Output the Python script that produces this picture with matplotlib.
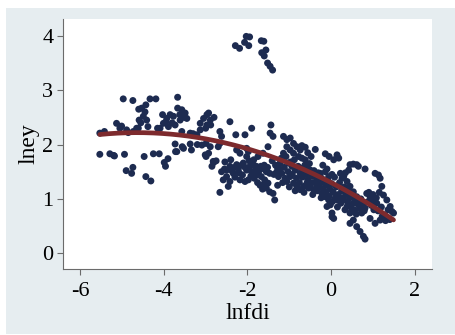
import numpy as np
import matplotlib
matplotlib.use("Agg")
import matplotlib.pyplot as plt
from matplotlib.patches import Rectangle

plt.rcParams["font.family"] = ["Liberation Serif", "DejaVu Serif"]
plt.rcParams["axes.unicode_minus"] = False

# points, grouped by region (lnfdi, lney)
left_pts = [(-5.53,1.82),(-5.29,1.83),(-5.20,1.80),(-5.18,1.79),(-4.94,1.82),(-4.90,1.52),(-4.77,1.47),
            (-4.74,1.58),(-4.43,1.41),(-4.31,1.33),(-4.47,1.78),(-4.25,1.83),(-4.11,1.83),(-3.99,1.67),
            (-3.96,1.60),(-3.90,1.74),(-3.72,1.87),(-3.73,2.01),(-3.56,1.96),(-3.37,2.01),(-3.34,1.90),
            (-5.53,2.21),(-5.42,2.24),(-5.13,2.39),(-5.01,2.34),(-4.97,2.84),(-4.74,2.81),(-4.53,2.67),
            (-4.43,2.73),(-4.33,2.84),(-4.19,2.84),(-4.59,2.45),(-4.49,2.52),(-4.41,2.45),(-4.65,2.30),
            (-4.73,2.24),(-4.89,2.27),(-4.09,2.30),(-4.01,2.39),(-4.03,2.55),(-3.93,2.48),(-3.85,2.55),
            (-3.77,2.52),(-3.89,2.33),(-3.67,2.87),(-3.67,2.67),(-3.57,2.64),(-3.49,2.58),(-3.45,2.48),
            (-3.61,2.45),(-3.73,2.36),(-3.57,2.24),(-3.37,2.21),(-3.21,2.18),(-4.55,2.40),(-4.45,2.60),
            (-4.60,2.65),(-3.95,2.42),(-3.80,2.40),(-3.62,2.55),(-3.52,2.50),(-4.15,2.30),(-4.85,2.22),
            (-5.05,2.30),(-4.61,2.30),(-4.38,2.33),(-3.53,1.93),(-3.69,1.87)]

mid_pts = [(-3.13,2.39),(-3.05,2.48),(-2.97,2.55),(-2.93,2.58),(-2.89,2.45),(-2.97,2.36),(-2.88,2.36),
           (-3.13,2.27),(-2.99,2.02),(-2.89,1.96),(-2.93,1.84),(-2.99,1.78),(-2.81,1.67),(-3.09,1.99),
           (-2.70,1.96),(-2.66,2.02),(-2.62,2.15),(-2.42,2.42),(-2.28,2.18),(-2.06,2.18),(-2.66,1.12),
           (-2.46,1.23),(-2.62,1.50),(-2.50,1.53),(-2.42,1.60),(-2.34,1.47),(-2.58,1.35),(-2.50,1.41),
           (-2.42,1.32),(-2.26,1.63),(-2.18,1.35),(-2.10,1.66),(-2.02,1.53),(-1.98,1.35),(-2.06,1.32),
           (-2.26,1.90),(-2.18,1.84),(-2.02,1.93),(-1.98,1.87),(-1.90,2.30),(-2.02,1.78),(-1.86,1.63),
           (-1.79,1.60),(-1.71,1.53),(-1.63,1.56),(-1.55,1.50),(-1.47,1.47),(-1.79,1.44),(-1.67,1.41),
           (-1.59,1.35),(-1.51,1.29),(-1.55,1.20),(-1.47,1.13),(-1.39,1.10),(-1.35,0.98),(-1.75,1.78),
           (-1.63,1.84),(-1.51,1.96),(-1.44,2.36),(-1.46,2.21),(-1.39,2.15),(-2.55,1.55),(-2.38,1.52),
           (-2.30,1.58),(-2.22,1.55),(-2.14,1.62),(-2.06,1.58),(-1.94,1.60),(-1.90,1.50),(-1.82,1.52),
           (-1.74,1.46),(-1.68,1.60),(-1.60,1.62),(-1.52,1.58),(-1.92,1.42),(-1.84,1.38),(-1.76,1.30),
           (-1.70,1.25),(-1.64,1.18),(-1.60,1.28),(-2.30,1.40),(-2.20,1.48),(-2.12,1.44),(-1.96,1.70),
           (-1.85,1.72),(-2.40,1.72),(-2.54,1.68),(-2.75,1.70),(-2.85,1.60),(-3.20,2.00),(-3.00,2.30),
           (-2.80,2.50),(-3.30,2.20),(-2.66,2.24),(-2.82,1.69),(-3.01,1.81)]

right_pts = [(-1.30,1.60),(-1.22,1.66),(-1.26,1.41),(-1.18,1.47),(-1.30,1.50),(-1.10,1.38),(-1.06,1.32),
             (-0.98,1.41),(-1.14,2.15),(-1.06,2.09),(-0.98,2.12),(-0.90,2.02),(-0.82,1.96),(-0.74,1.90),
             (-0.78,1.78),(-0.90,1.84),(-0.98,1.90),(-1.06,1.96),(-1.14,1.84),(-0.70,1.75),(-0.62,1.72),
             (-0.58,1.60),(-0.50,1.53),(-0.66,1.53),(-0.74,1.47),(-0.86,1.53),(-0.94,1.60),(-1.02,1.66),
             (-0.90,1.29),(-0.82,1.23),(-0.74,1.17),(-0.66,1.23),(-0.58,1.29),(-0.50,1.23),(-0.42,1.17),
             (-0.34,1.23),(-0.30,1.35),(-0.38,1.41),(-0.26,1.47),(-0.14,1.50),(-0.06,1.41),(-0.38,1.91),
             (-0.14,1.83),(-0.22,1.10),(-0.14,1.04),(-0.06,0.98),(-0.02,0.89),(-0.10,0.86),(0.02,0.74),
             (0.06,0.64),(0.14,0.98),(0.14,1.81),(0.18,1.75),(0.22,1.47),(0.30,1.41),(0.38,1.32),
             (0.45,1.23),(0.53,1.13),(0.61,1.04),(0.42,1.53),(0.45,1.63),(0.53,1.64),(0.61,1.63),
             (0.65,1.60),(0.81,1.55),(0.30,0.98),(0.38,0.86),(0.45,0.74),(0.53,0.61),(0.61,0.49),
             (0.69,0.40),(0.77,0.31),(0.81,0.26),(0.85,1.10),(0.93,1.04),(0.99,0.98),(1.09,0.92),
             (1.05,1.47),(1.13,1.44),(1.17,1.38),(1.21,1.23),(1.25,1.07),(1.33,0.98),(1.41,0.86),
             (1.45,0.77),(1.49,0.74),(0.93,0.64),(1.05,0.55),(1.17,0.61),(0.73,0.74),(0.81,0.83),
             (0.65,0.89),(0.53,0.92),(0.02,0.67),(0.45,0.55),(1.40,0.62),(1.30,0.60),(1.22,0.68)]

dense_pts = [(-1.37,1.45),(-1.33,1.62),(-1.41,1.70),(-1.28,1.25),(-1.24,1.55),(-1.19,1.75),(-1.16,1.30),
             (-1.12,1.58),(-1.08,1.78),(-1.03,1.50),(-1.00,1.22),(-0.97,1.68),(-0.93,1.45),(-0.88,1.72),
             (-0.86,1.15),(-0.83,1.38),(-0.79,1.60),(-0.76,1.30),(-0.72,1.56),(-0.69,1.40),(-0.65,1.12),
             (-0.63,1.62),(-0.60,1.45),(-0.56,1.35),(-0.54,1.20),(-0.52,1.65),(-0.47,1.42),(-0.45,1.30),
             (-0.44,1.08),(-0.41,1.52),(-0.36,1.32),(-0.33,1.15),(-0.31,1.48),(-0.28,1.25),(-0.24,1.02),
             (-0.23,1.38),(-0.19,1.18),(-0.17,1.30),(-0.12,1.12),(-0.11,1.25),(-0.08,1.35),(-0.05,1.05),
             (-0.03,1.18),(0.01,1.28),(0.03,0.95),(0.05,1.12),(0.08,1.40),(0.10,1.02),(0.12,1.22),
             (0.15,0.85),(0.17,1.08),(0.20,1.30),(0.23,0.92),(0.25,1.15),(0.27,1.02),(0.31,1.22),
             (0.33,0.80),(0.35,1.08),(0.39,0.95),(0.41,1.15),(0.44,1.02),(0.47,0.85),(0.50,1.05),
             (0.55,0.80),(0.57,0.98),(0.60,0.72),(0.63,0.92),(0.68,0.82),(0.71,1.00),(0.75,0.90),
             (0.79,0.78),(0.88,0.95),(0.96,0.88),(1.02,0.80),(1.12,0.78),(1.20,0.85),(1.28,0.70),
             (1.36,0.80),(0.90,1.12),(1.00,1.08),(1.08,1.02),(1.15,1.12),(-0.20,1.62),(-0.10,1.55),
             (0.02,1.45),(0.06,1.72),(-0.05,1.78),(0.26,1.38),(0.34,1.48),(-0.48,1.78),(-0.56,1.85),
             (-0.62,1.95),(-0.70,1.98)]

outlier_pts = [(-2.29,3.82),(-2.19,3.77),(-2.03,3.99),(-1.95,3.98),(-2.07,3.88),(-1.97,3.82),(-1.67,3.91),
               (-1.61,3.90),(-1.66,3.69),(-1.56,3.74),(-1.60,3.63),(-1.52,3.50),(-1.46,3.44),(-1.40,3.37)]

pts = np.array(left_pts + mid_pts + right_pts + dense_pts + outlier_pts)
lnfdi = pts[:, 0]
lney = pts[:, 1]

# quadratic fit like Stata's qfit
coef = np.polyfit(lnfdi, lney, 2)
xfit = np.linspace(lnfdi.min(), lnfdi.max(), 200)
yfit = np.polyval(coef, xfit)

fig = plt.figure(figsize=(4.55, 3.35), dpi=100)
fig.patch.set_facecolor("white")
bg = Rectangle((6/455, 1/335), 449/455, 326/335, transform=fig.transFigure,
               facecolor="#e6edf0", edgecolor="none", zorder=-10)
fig.add_artist(bg)

ax = fig.add_axes([63/455, 66/335, 369/455, 250/335])
ax.set_zorder(1)
ax.set_facecolor("white")
ax.scatter(lnfdi, lney, s=25, color="#1d2b50", edgecolors="none", zorder=2)
ax.plot(xfit, yfit, color="#7d2a2d", lw=3.4, solid_capstyle="round", zorder=3)

ax.set_xlim(-6.41, 2.41)
ax.set_ylim(-0.29, 4.31)
ax.set_xticks([-6, -4, -2, 0, 2])
ax.set_yticks([0, 1, 2, 3, 4])

for side in ["top", "right"]:
    ax.spines[side].set_visible(False)
for side in ["left", "bottom"]:
    ax.spines[side].set_color("#6b6b6b")
    ax.spines[side].set_linewidth(0.8)

ax.tick_params(direction="out", length=4, width=0.8, color="#6b6b6b", labelsize=16)
ax.tick_params(axis="x", pad=5)
ax.tick_params(axis="y", pad=3)
ax.set_xlabel("lnfdi", fontsize=17, labelpad=2)
ax.set_ylabel("lney", fontsize=17, labelpad=2)

fig.savefig("out.png", dpi=100)
